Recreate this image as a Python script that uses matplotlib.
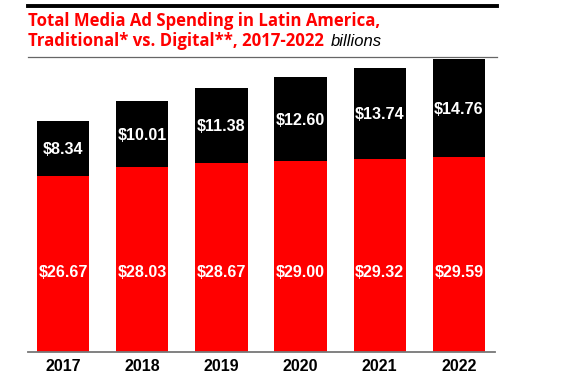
import matplotlib
matplotlib.use("Agg")
import matplotlib.pyplot as plt
from matplotlib.lines import Line2D
import numpy as np

years = ["2017", "2018", "2019", "2020", "2021", "2022"]
traditional = [26.67, 28.03, 28.67, 29.00, 29.32, 29.59]
digital = [8.34, 10.01, 11.38, 12.60, 13.74, 14.76]

RED = "#ff0000"
W, H = 570, 380

fig = plt.figure(figsize=(5.7, 3.8), dpi=100)
fig.patch.set_facecolor("white")

# axes: baseline at y=352px, top at y=57px, x from 28 to 495px
ax = fig.add_axes([28 / W, (H - 352) / H, (495 - 28) / W, (352 - 57) / H])
x = np.arange(len(years))
ax.bar(x, traditional, width=0.66, color=RED, zorder=2)
ax.bar(x, digital, width=0.66, bottom=traditional, color="black", zorder=2)

for i in range(len(years)):
    ax.text(x[i], 12.1, f"${traditional[i]:.2f}", ha="center", va="center",
            color="white", fontsize=11.6, fontweight="bold", family="Liberation Sans")
    ax.text(x[i], traditional[i] + digital[i] / 2 - 0.2, f"${digital[i]:.2f}",
            ha="center", va="center", color="white", fontsize=11.6,
            fontweight="bold", family="Liberation Sans")

ax.set_xlim(-0.442, 5.455)
ax.set_ylim(0, 44.7)
ax.set_xticks(x)
ax.set_xticklabels(years, fontsize=11.5, fontweight="bold", family="Liberation Sans")
ax.tick_params(axis="x", length=0, pad=5)
ax.set_yticks([])
for s in ["top", "left", "right"]:
    ax.spines[s].set_visible(False)
ax.spines["bottom"].set_color("#777777")
ax.spines["bottom"].set_linewidth(1.3)

# header rules
fig.add_artist(Line2D([28 / W, 497 / W], [1 - 6 / H, 1 - 6 / H], color="black", lw=2.8))
fig.add_artist(Line2D([28 / W, 497 / W], [1 - 57 / H, 1 - 57 / H], color="#666666", lw=0.9))

# title
fig.text(28 / W, 1 - 26 / H, "Total Media Ad Spending in Latin America,",
         color=RED, fontsize=12.1, fontweight="bold", family="Open Sans", va="baseline")
t2 = fig.text(28 / W, 1 - 46 / H, "Traditional* vs. Digital**, 2017-2022",
              color=RED, fontsize=12.1, fontweight="bold", family="Open Sans", va="baseline")
fig.canvas.draw()
bb = t2.get_window_extent()
fig.text((bb.x1 + 7) / W, 1 - 46 / H, "billions", color="black", fontsize=12,
         style="italic", family="Liberation Sans", va="baseline")

fig.savefig("out.png", dpi=100)
